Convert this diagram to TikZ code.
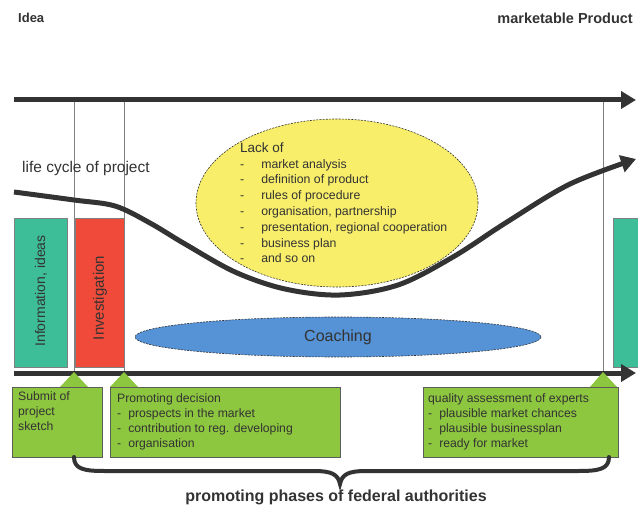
\documentclass[tikz,border=0pt]{standalone}
\usepackage{fontspec}
\setmainfont{Liberation Sans}
\usetikzlibrary{arrows.meta,shapes.geometric}
\definecolor{tealc}{HTML}{3EBE98}
\definecolor{redc}{HTML}{F04B3A}
\definecolor{greenc}{HTML}{8DC63F}
\definecolor{yellowc}{HTML}{F8EE6A}
\definecolor{bluec}{HTML}{5592D6}
\definecolor{inkc}{HTML}{333333}
\definecolor{linec}{HTML}{808080}
\begin{document}
\begin{tikzpicture}[x=1pt,y=-1pt,
  bigarrow/.style={line width=5pt,draw=inkc,-{Triangle[length=15pt,width=17pt]}},
  guide/.style={draw=linec,line width=0.8pt},
  phasebox/.style={draw=linec,line width=0.6pt,anchor=north west,inner sep=0pt},
  greenbox/.style={fill=greenc,draw=inkc!80,line width=0.7pt,anchor=north west,inner sep=0pt},
  marker/.style={fill=greenc,draw=none},
  txt/.style={inner sep=0pt,text=inkc,font=\fontsize{12.2}{15}\selectfont,align=left,anchor=north west},
  head/.style={inner sep=0pt,text=inkc,font=\fontsize{14.5}{17}\selectfont\bfseries},
  oval/.style={ellipse,draw=inkc,dashed,dash pattern=on 2pt off 1.2pt,line width=0.6pt,inner sep=0pt}
]
\useasboundingbox (0,0) rectangle (638,508);
\clip (0,0) rectangle (638,508);

% headings
\node[head,anchor=west,font=\fontsize{13}{15}\selectfont\bfseries] (idea) at (18,18) {Idea};
\node[head,anchor=east] (product) at (633,18) {marketable Product};

% guide lines
\coordinate (g1a) at (74,100); \coordinate (g1b) at (74,372);
\coordinate (g2a) at (124,100); \coordinate (g2b) at (124,372);
\coordinate (g3a) at (603,100); \coordinate (g3b) at (603,372);

% phase boxes
\node[phasebox,fill=tealc,minimum width=53pt,minimum height=149pt] (info) at (14,218) {};
\node[phasebox,fill=redc,minimum width=49pt,minimum height=149pt] (invest) at (75,218) {};
\node[phasebox,fill=tealc,minimum width=40pt,minimum height=149pt] (final) at (613,218) {};
\node[rotate=90,inner sep=0pt,text=inkc,font=\fontsize{14}{16}\selectfont] (infot) at (41,291) {Information, ideas};
\node[rotate=90,inner sep=0pt,text=inkc,font=\fontsize{15}{17}\selectfont] (investt) at (100,298) {Investigation};

\draw[guide] (g1a) -- (g1b);
\draw[guide] (g2a) -- (g2b);
\draw[guide] (g3a) -- (g3b);

% life cycle curve
\node[txt,anchor=west,font=\fontsize{15.5}{17}\selectfont] (life) at (22,168) {life cycle of project};
\coordinate (c0) at (14,192);
\coordinate (c1) at (636,159);
\draw[line width=5pt,draw=inkc,-{Triangle[length=15pt,width=17pt]}]
  plot[smooth,tension=0.55] coordinates {(14,192) (74,200) (115,206) (150,223) (185,244) (235,272) (285,289) (340,295) (398,285) (453,257) (507,222) (570,184) (636,159)};

% ellipses
\node[oval,fill=yellowc,minimum width=282pt,minimum height=168pt] (lack) at (337,203) {};
\node[txt] (lackt) at (240,141) {\fontsize{12.3}{15.8}\selectfont
  \begin{tabular}{@{}l@{\hspace{17pt}}l@{}}
  \multicolumn{2}{@{}l@{}}{\fontsize{13.5}{16}\selectfont Lack of}\\
  - & market analysis\\
  - & definition of product\\
  - & rules of procedure\\
  - & organisation, partnership\\
  - & presentation, regional cooperation\\
  - & business plan\\
  - & and so on
  \end{tabular}};
\node[oval,fill=bluec,minimum width=406pt,minimum height=40pt,font=\fontsize{16}{18}\selectfont,text=inkc] (coach) at (338,337) {Coaching};

% time arrows
\coordinate (t0) at (14,100); \coordinate (t1) at (636,100);
\coordinate (b0) at (14,373); \coordinate (b1) at (636,373);
\draw[bigarrow] (t0) -- (t1);
\draw[bigarrow] (b0) -- (b1);

% markers
\fill[marker] (60,387) -- (g1b) -- (88,387) -- cycle;
\fill[marker] (110,387) -- (g2b) -- (138,387) -- cycle;
\fill[marker] (590,387) -- (g3b) -- (617,387) -- cycle;

% green boxes
\node[greenbox,minimum width=90pt,minimum height=70pt] (submit) at (12,387) {};
\node[greenbox,minimum width=230pt,minimum height=70pt] (promo) at (110,387) {};
\node[greenbox,minimum width=195pt,minimum height=70pt] (quality) at (423,387) {};

\node[txt] (submitt) at (18,391.5) {Submit of\\project\\sketch};
\node[txt] (promot) at (117,391.5) {%
  \begin{tabular}{@{}l@{\hspace{7pt}}l@{}}
  \multicolumn{2}{@{}l@{}}{Promoting decision}\\
  - & prospects in the market\\
  - & contribution to reg. developing\\
  - & organisation
  \end{tabular}};
\node[txt] (qualityt) at (428,391.5) {%
  \begin{tabular}{@{}l@{\hspace{7pt}}l@{}}
  \multicolumn{2}{@{}l@{}}{quality assessment of experts}\\
  - & plausible market chances\\
  - & plausible businessplan\\
  - & ready for market
  \end{tabular}};

% brace
\coordinate (br0) at (74,457);
\coordinate (br1) at (609,457);
\coordinate (brtip) at (340,484);
\draw[line width=4pt,draw=inkc,line cap=round]
  (br0) .. controls (74,469) and (84,471) .. (104,471) -- (314,471)
  .. controls (331,471) and (338,474) .. (brtip)
  .. controls (342,474) and (349,471) .. (366,471) -- (579,471)
  .. controls (599,471) and (609,469) .. (br1);

\node[head,font=\fontsize{16}{18}\selectfont\bfseries] (phases) at (336,497) {promoting phases of federal authorities};
\end{tikzpicture}
\end{document}
